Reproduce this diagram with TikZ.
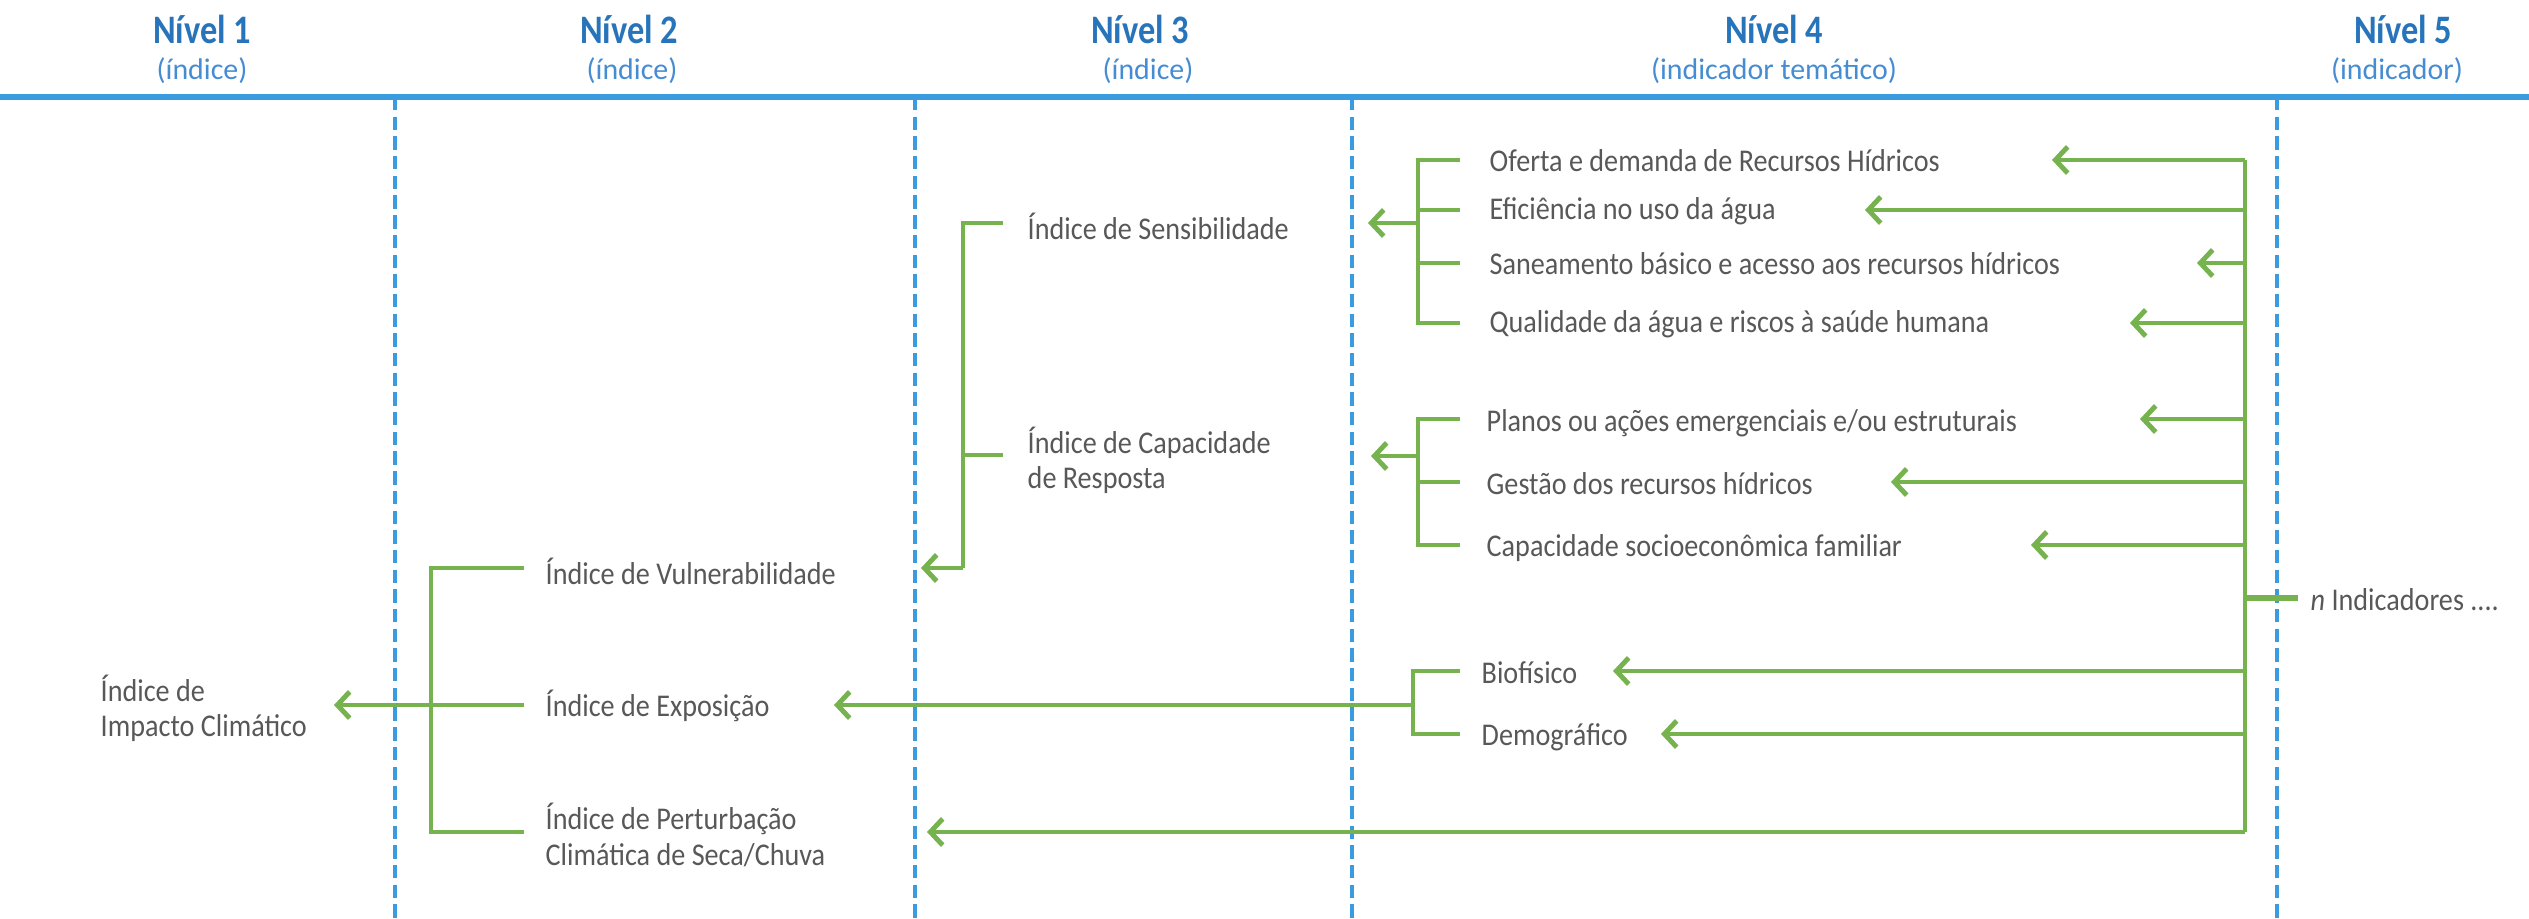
\documentclass[tikz,border=0pt]{standalone}
\usepackage{fontspec}
\setmainfont{Carlito}[FakeStretch=0.89]
\newfontfamily\headfont{Carlito}[FakeStretch=0.85]
\newfontfamily\subfont{Carlito}
\usetikzlibrary{arrows.meta}
\definecolor{leafgreen}{RGB}{118,178,78}
\definecolor{lineblue}{RGB}{58,155,222}
\definecolor{headblue}{RGB}{40,116,186}
\definecolor{subblue}{RGB}{70,140,210}
\definecolor{textgray}{RGB}{88,88,88}

\begin{document}
\begin{tikzpicture}[x=0.01cm,y=-0.01cm,
    >={Straight Barb[length=3.5pt,width=7.5pt,line width=1.4pt]},
    head node/.style={font=\headfont\fontsize{11.5}{13}\selectfont\bfseries,text=headblue},
    sub node/.style={font=\subfont\fontsize{8.5}{10}\selectfont,text=subblue},
    item node/.style={anchor=west,inner sep=0pt,align=left,
                      font=\fontsize{9}{10}\selectfont,text=textgray},
    link/.style={draw=leafgreen,line width=0.9pt},
    feed/.style={link,->},
    main feed/.style={link,->,line width=1.3pt},
    level line/.style={draw=lineblue,line width=0.9pt,dash pattern=on 3.8pt off 1.8pt}]

  \useasboundingbox (0,0) rectangle (2529,919);

  % header
  \node[head node] (n1) at (202,29)  {Nível 1};
  \node[sub node]  (s1) at (202,71)  {(índice)};
  \node[head node] (n2) at (629,29)  {Nível 2};
  \node[sub node]  (s2) at (632,71)  {(índice)};
  \node[head node] (n3) at (1140,29) {Nível 3};
  \node[sub node]  (s3) at (1148,71) {(índice)};
  \node[head node] (n4) at (1774,29) {Nível 4};
  \node[sub node]  (s4) at (1774,71) {(indicador temático)};
  \node[head node] (n5) at (2403,29) {Nível 5};
  \node[sub node]  (s5) at (2397,71) {(indicador)};

  \draw[draw=lineblue,line width=1.8pt] (0,97) -- (2529,97);
  \foreach \x in {395,915,1352,2277}
    \draw[level line] (\x,97) -- (\x,919);

  % nivel 1 and 2
  \node[item node] (impacto) at (100,708) {Índice de\\Impacto Climático};
  \node[item node] (vul)  at (545,571) {Índice de Vulnerabilidade};
  \node[item node] (exp)  at (545,706) {Índice de Exposição};
  \node[item node] (pert) at (545,835) {Índice de Perturbação\\Climática de Seca/Chuva};

  \coordinate (b2a) at (524,568);
  \coordinate (b2b) at (524,705);
  \coordinate (b2c) at (524,832);
  \coordinate (b2x) at (431,705);
  \coordinate (impacto tip) at (334,705);
  \draw[link] (b2a) -| (b2c -| b2x) -- (b2c);
  \draw[feed] (b2b) -- (impacto tip);

  % nivel 3
  \node[item node] (sens) at (1027,226) {Índice de Sensibilidade};
  \node[item node] (cap)  at (1027,460) {Índice de Capacidade\\de Resposta};

  \coordinate (b3a) at (1003,223);
  \coordinate (b3b) at (1003,455);
  \coordinate (b3x) at (963,455);
  \coordinate (b3c) at (963,568);
  \coordinate (vul tip) at (921,568);
  \draw[link] (b3a) -| (b3c);
  \draw[link] (b3b) -- (b3x);
  \draw[feed] (b3c) -- (vul tip);

  % nivel 4
  \node[item node] (oferta)  at (1489,161) {Oferta e demanda de Recursos Hídricos};
  \node[item node] (efic)    at (1489,211) {Eficiência no uso da água};
  \node[item node] (saneam)  at (1489,264) {Saneamento básico e acesso aos recursos hídricos};
  \node[item node] (qualid)  at (1489,324) {Qualidade da água e riscos à saúde humana};
  \node[item node] (planos)  at (1486,423) {Planos ou ações emergenciais e/ou estruturais};
  \node[item node] (gestao)  at (1486,484) {Gestão dos recursos hídricos};
  \node[item node] (socio)   at (1486,548) {Capacidade socioeconômica familiar};
  \node[item node] (biof)    at (1481,673) {Biofísico};
  \node[item node] (demog)   at (1481,737) {Demográfico};

  \draw[link] (1460,160) -| (1418,323) -- (1460,323);
  \draw[link] (1418,210) -- (1460,210) (1418,263) -- (1460,263);
  \draw[main feed] (1418,223) -- (1368,223);

  \draw[link] (1460,419) -| (1418,545) -- (1460,545);
  \draw[link] (1418,482) -- (1460,482);
  \draw[main feed] (1418,456) -- (1371,456);

  \coordinate (exp tip) at (834,705);
  \draw[link] (1460,671) -| (1413,734) -- (1460,734);
  \draw[feed] (1413,705) -- (exp tip);

  % nivel 5
  \foreach \i/\y/\tx in {1/160/2052,2/210/1865,3/263/2197,4/323/2130,5/419/2140,
                         6/482/1891,7/545/2031,8/671/1613,9/734/1661,10/832/927}{
    \coordinate (t\i) at (2245,\y);
    \coordinate (p\i) at (\tx,\y);
    \draw[feed] (t\i) -- (p\i);
  }
  \coordinate (t0) at (2245,598);
  \node[item node] (nind) at (2310,600) {\textit{n} Indicadores ....};
  \draw[link,line width=1.3pt] (t1) -- (t0);
  \draw[link] (t0) -- (t10);
  \draw[link,line width=1.8pt,shorten >=0.12cm] (t0) -- (nind.west |- t0);
\end{tikzpicture}
\end{document}
